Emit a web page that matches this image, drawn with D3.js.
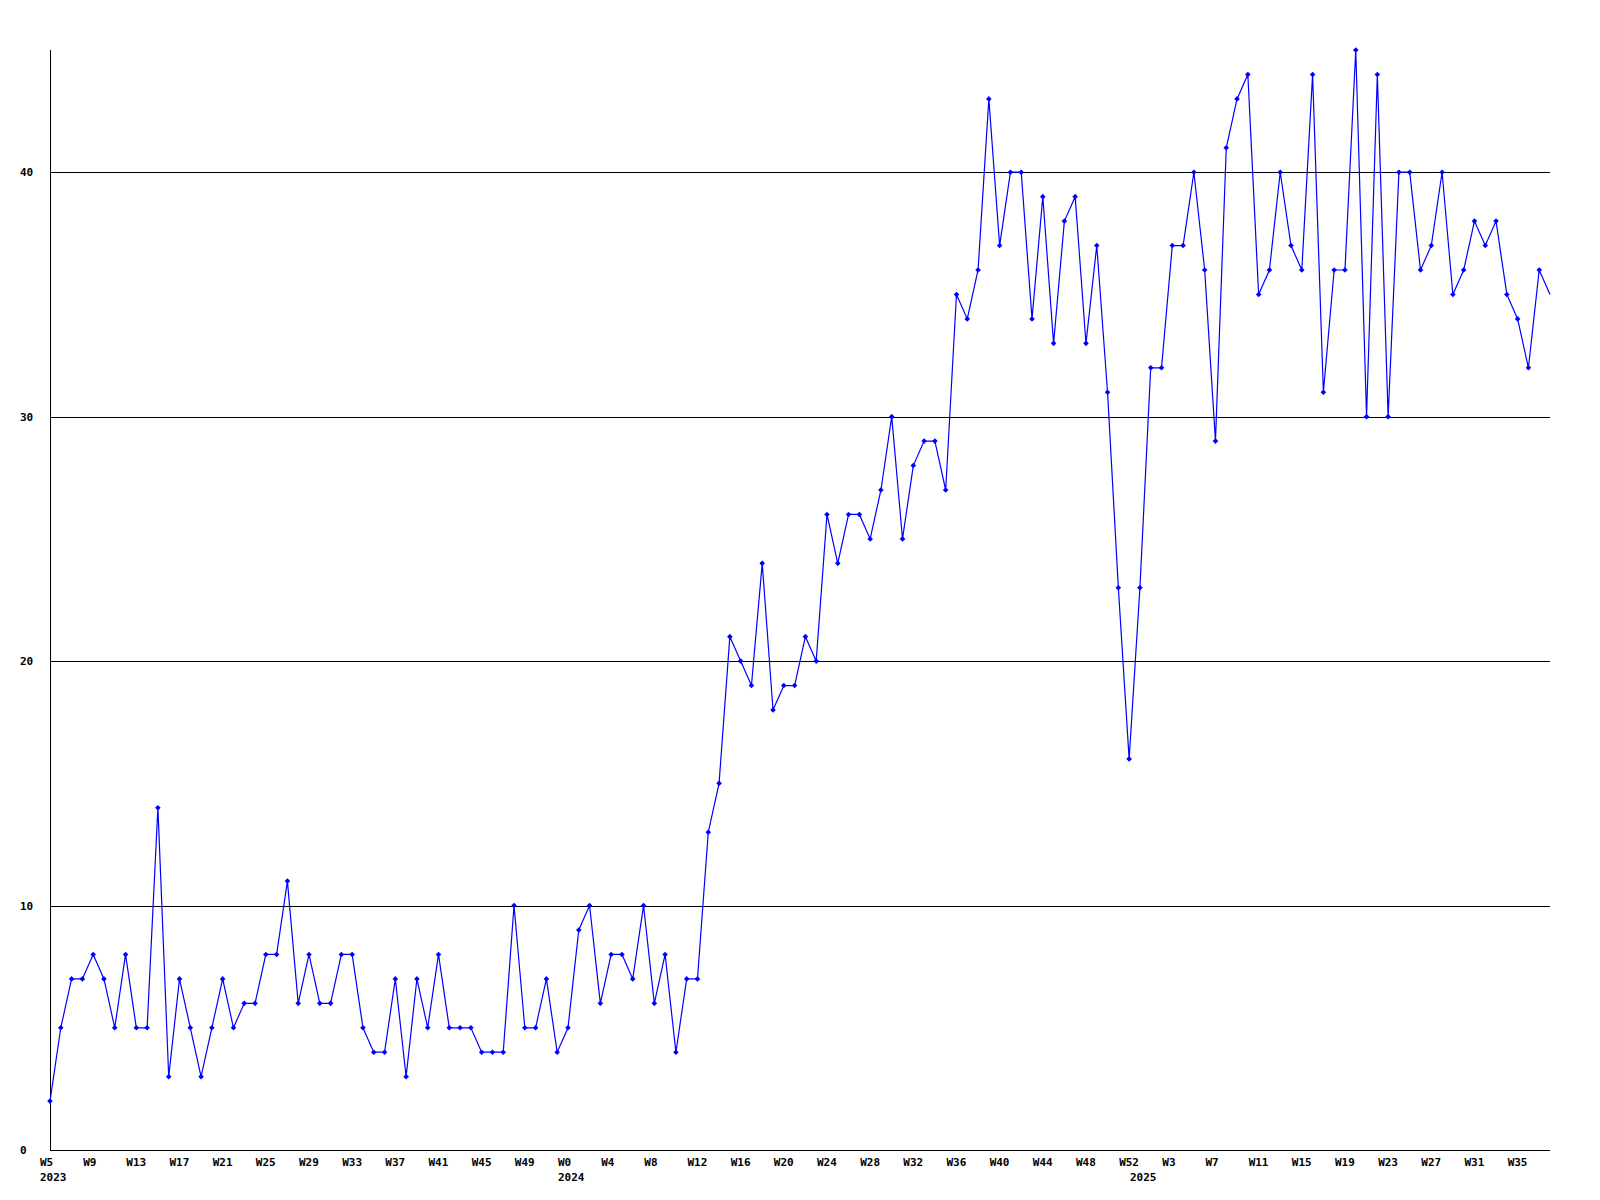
<!DOCTYPE html>
<html>
<head>
<meta charset="utf-8">
<script src="https://cdn.jsdelivr.net/npm/d3@7"></script>
<style>
  html, body { margin: 0; padding: 0; background: #ffffff; }
  svg { display: block; }
  text { font-family: "DejaVu Sans Mono", "Liberation Mono", monospace; font-weight: bold; font-size: 11px; fill: #000; }
</style>
</head>
<body>
<svg id="chart" width="1600" height="1200"></svg>
<script>
// ---- data ----
const yearNames = ["2023", "2024", "2025"];
const yearFirstWeek = [5, 0, 0];
const yearLastWeek = [52, 52, 38];
const values = [
  2, 5, 7, 7, 8, 7, 5, 8, 5, 5, 14, 3, 7, 5, 3, 5, 7, 5, 6, 6, 8, 8, 11, 6, 8, 6, 6, 8, 8, 5, 4, 4, 7, 3, 7, 5, 8, 5, 5, 5, 4, 4, 4, 10,
  5, 5, 7, 4, 5, 9, 10, 6, 8, 8, 7, 10, 6, 8, 4, 7, 7, 13, 15,
  21, 20, 19, 24, 18, 19, 19, 21, 20, 26, 24, 26, 26, 25, 27, 30, 25, 28, 29, 29, 27,
  35, 34, 36, 43, 37, 40, 40, 34, 39, 33, 38, 39, 33, 37, 31, 23, 16, 23, 32, 32, 37, 37, 40, 36, 29, 41, 43, 44,
  35, 36, 40, 37, 36, 44, 31, 36, 36, 45, 30, 44, 30, 40, 40, 36, 37, 40, 35, 36, 38, 37, 38, 35, 34, 32, 36, 35
];
const yTicks = [0, 10, 20, 30, 40];
const tickEvery = 4;

(function () {
  // categories (year, week) built from the year ranges
  const categories = [];
  yearNames.forEach((yr, k) => {
    for (let w = yearFirstWeek[k]; w <= yearLastWeek[k]; w++) {
      categories.push({ year: yr, week: w, first: w === yearFirstWeek[k] });
    }
  });

  // ---- layout ----
  const mLeft = 50, mRight = 1550, mTop = 50, mBottom = 1150;
  const svg = d3.select("#chart");
  svg.append("rect").attr("width", 1600).attr("height", 1200).attr("fill", "#fff");

  const x = d3.scaleLinear().domain([0, categories.length - 1]).range([mLeft, mRight]);
  const y = d3.scaleLinear().domain([0, 45]).range([mBottom, mTop]);
  const crisp = v => Math.round(v) + 0.5;

  // gridlines
  svg.append("g").selectAll("line").data(yTicks.filter(t => t > 0)).join("line")
    .attr("x1", mLeft).attr("x2", mRight)
    .attr("y1", d => crisp(y(d))).attr("y2", d => crisp(y(d)))
    .attr("stroke", "#000").attr("stroke-width", 1).attr("shape-rendering", "crispEdges");

  // axes lines
  svg.append("line").attr("x1", crisp(mLeft)).attr("x2", crisp(mLeft)).attr("y1", mTop).attr("y2", crisp(mBottom))
    .attr("stroke", "#000").attr("shape-rendering", "crispEdges");
  svg.append("line").attr("x1", mLeft).attr("x2", mRight).attr("y1", crisp(mBottom)).attr("y2", crisp(mBottom))
    .attr("stroke", "#000").attr("shape-rendering", "crispEdges");

  // y labels
  svg.append("g").selectAll("text").data(yTicks).join("text")
    .attr("x", 20).attr("y", d => y(d) + 4)
    .text(d => d);

  // x labels
  const tickIdx = d3.range(0, categories.length, tickEvery);
  svg.append("g").selectAll("text").data(tickIdx).join("text")
    .attr("x", i => x(i) - 10).attr("y", mBottom + 16)
    .text(i => "W" + categories[i].week);
  const yearIdx = categories.map((c, i) => c.first ? i : -1).filter(i => i >= 0);
  svg.append("g").selectAll("text").data(yearIdx).join("text")
    .attr("x", i => x(i) - 10).attr("y", mBottom + 31)
    .text(i => categories[i].year);

  // line
  const line = d3.line().x((d, i) => x(i)).y(d => y(d));
  svg.append("path").datum(values)
    .attr("d", line).attr("fill", "none").attr("stroke", "#0000ff").attr("stroke-width", 1.2);

  // markers
  const pts = values.map((v, i) => ({ v, i })).filter(p => x(p.i) < mRight - 1);
  svg.append("g").selectAll("path").data(pts).join("path")
    .attr("transform", p => `translate(${x(p.i)},${y(p.v)})`)
    .attr("d", "M0,-2.8L2.8,0L0,2.8L-2.8,0Z")
    .attr("fill", "#0000ff");
})();
</script>
</body>
</html>
